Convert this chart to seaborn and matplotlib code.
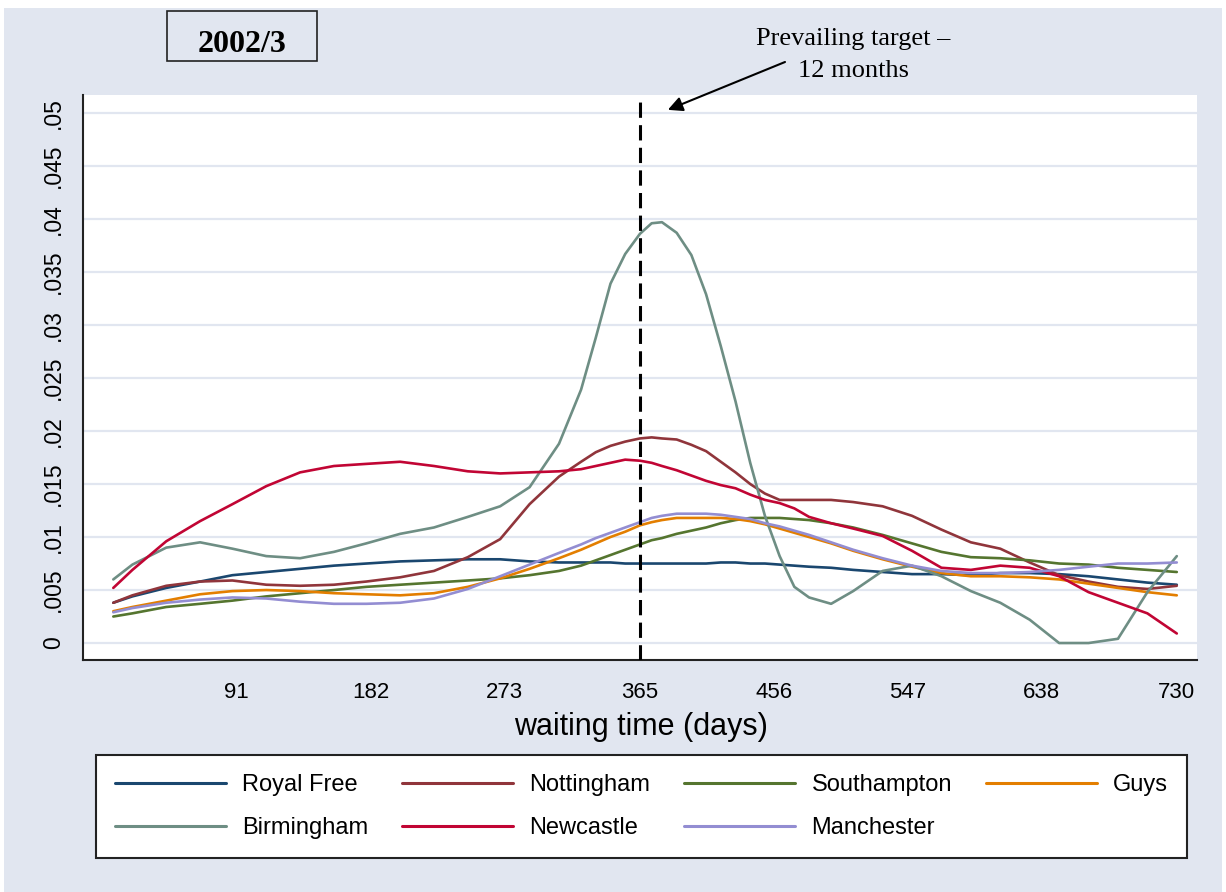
import numpy as np
import pandas as pd
import matplotlib
matplotlib.use("Agg")
import matplotlib.pyplot as plt
from matplotlib.lines import Line2D
from matplotlib.patches import Rectangle
import seaborn as sns

# waiting time grid (days)
days = [7, 20, 43, 66, 88, 111, 134, 157, 179, 202, 225, 248, 270, 290, 310,
        325, 335, 345, 355, 365, 373, 380, 390, 400, 410, 420, 430, 440, 450,
        460, 470, 480, 495, 510, 530, 550, 570, 590, 610, 630, 650, 670, 690,
        710, 730]

royal_free = [0.0038, 0.0044, 0.0052, 0.0058, 0.0064, 0.0067, 0.0070, 0.0073, 0.0075,
              0.0077, 0.0078, 0.0079, 0.0079, 0.0077, 0.0076, 0.0076, 0.0076, 0.0076,
              0.0075, 0.0075, 0.0075, 0.0075, 0.0075, 0.0075, 0.0075, 0.0076, 0.0076,
              0.0075, 0.0075, 0.0074, 0.0073, 0.0072, 0.0071, 0.0069, 0.0067, 0.0065,
              0.0065, 0.0064, 0.0066, 0.0066, 0.0065, 0.0063, 0.0060, 0.0057, 0.0055]
nottingham = [0.0038, 0.0045, 0.0054, 0.0058, 0.0059, 0.0055, 0.0054, 0.0055, 0.0058,
              0.0062, 0.0068, 0.0081, 0.0098, 0.0131, 0.0157, 0.0171, 0.0180, 0.0186,
              0.0190, 0.0193, 0.0194, 0.0193, 0.0192, 0.0187, 0.0181, 0.0171, 0.0161,
              0.0150, 0.0141, 0.0135, 0.0135, 0.0135, 0.0135, 0.0133, 0.0129, 0.0120,
              0.0107, 0.0095, 0.0089, 0.0076, 0.0064, 0.0058, 0.0053, 0.0051, 0.0054]
southampton = [0.0025, 0.0028, 0.0034, 0.0037, 0.0040, 0.0044, 0.0047, 0.0050, 0.0053,
               0.0055, 0.0057, 0.0059, 0.0061, 0.0064, 0.0068, 0.0073, 0.0078, 0.0083,
               0.0088, 0.0093, 0.0097, 0.0099, 0.0103, 0.0106, 0.0109, 0.0113, 0.0116,
               0.0118, 0.0118, 0.0118, 0.0117, 0.0116, 0.0113, 0.0109, 0.0102, 0.0094,
               0.0086, 0.0081, 0.0080, 0.0078, 0.0075, 0.0074, 0.0071, 0.0069, 0.0067]
guys = [0.0030, 0.0034, 0.0040, 0.0046, 0.0049, 0.0050, 0.0049, 0.0047, 0.0046,
        0.0045, 0.0047, 0.0053, 0.0061, 0.0070, 0.0080, 0.0088, 0.0094, 0.0100,
        0.0105, 0.0111, 0.0114, 0.0116, 0.0118, 0.0118, 0.0118, 0.0118, 0.0117,
        0.0115, 0.0112, 0.0108, 0.0104, 0.0100, 0.0094, 0.0087, 0.0079, 0.0072,
        0.0066, 0.0063, 0.0063, 0.0062, 0.0060, 0.0056, 0.0052, 0.0048, 0.0045]
birmingham = [0.0060, 0.0074, 0.0090, 0.0095, 0.0089, 0.0082, 0.0080, 0.0086, 0.0094,
              0.0103, 0.0109, 0.0119, 0.0129, 0.0147, 0.0188, 0.0239, 0.0288, 0.0339,
              0.0367, 0.0386, 0.0396, 0.0397, 0.0387, 0.0366, 0.0329, 0.0280, 0.0228,
              0.0170, 0.0120, 0.0082, 0.0053, 0.0043, 0.0037, 0.0049, 0.0068, 0.0073,
              0.0063, 0.0049, 0.0038, 0.0022, 0.0000, 0.0000, 0.0004, 0.0048, 0.0082]
newcastle = [0.0052, 0.0069, 0.0096, 0.0115, 0.0131, 0.0148, 0.0161, 0.0167, 0.0169,
             0.0171, 0.0167, 0.0162, 0.0160, 0.0161, 0.0162, 0.0164, 0.0167, 0.0170,
             0.0173, 0.0172, 0.0170, 0.0167, 0.0163, 0.0158, 0.0153, 0.0149, 0.0146,
             0.0140, 0.0135, 0.0132, 0.0127, 0.0119, 0.0113, 0.0108, 0.0101, 0.0087,
             0.0071, 0.0069, 0.0073, 0.0071, 0.0063, 0.0048, 0.0038, 0.0028, 0.0009]
manchester = [0.0029, 0.0033, 0.0038, 0.0041, 0.0043, 0.0042, 0.0039, 0.0037, 0.0037,
              0.0038, 0.0042, 0.0051, 0.0063, 0.0074, 0.0085, 0.0093, 0.0099, 0.0104,
              0.0109, 0.0114, 0.0118, 0.0120, 0.0122, 0.0122, 0.0122, 0.0121, 0.0119,
              0.0117, 0.0113, 0.0110, 0.0106, 0.0102, 0.0095, 0.0088, 0.0080, 0.0073,
              0.0068, 0.0066, 0.0066, 0.0067, 0.0069, 0.0072, 0.0075, 0.0075, 0.0076]

hospitals = ["Royal Free", "Nottingham", "Southampton", "Guys",
             "Birmingham", "Newcastle", "Manchester"]
series = [royal_free, nottingham, southampton, guys, birmingham, newcastle, manchester]
colors = ["#1a476f", "#90353b", "#55752f", "#e37e00", "#6e8e84", "#c10534", "#938dd2"]

xticks = [91, 182, 273, 365, 456, 547, 638, 730]
yticks = [0, .005, .01, .015, .02, .025, .03, .035, .04, .045, .05]
ytick_labels = ["0", ".005", ".01", ".015", ".02", ".025", ".03", ".035", ".04", ".045", ".05"]

df = pd.concat([pd.DataFrame({"day": days, "density": s, "hospital": h})
                for h, s in zip(hospitals, series)], ignore_index=True)

bg = "#e1e6f0"
sns.set_style("white")
plt.rcParams["font.family"] = ["Liberation Sans", "DejaVu Sans"]
plt.rcParams["text.color"] = "black"
plt.rcParams["xtick.labelcolor"] = "black"
plt.rcParams["ytick.labelcolor"] = "black"

fig = plt.figure(figsize=(12.26, 8.92), dpi=100, facecolor="white")
fig.patches.append(Rectangle((0.003, 0.0), 0.994, 0.991, transform=fig.transFigure,
                             facecolor=bg, edgecolor="none", zorder=-10))

ax = fig.add_axes([0.0677, 0.2601, 0.9086, 0.6334])
ax.set_facecolor("white")

for y in yticks:
    ax.axhline(y, color=bg, lw=1.6, zorder=0)

sns.lineplot(data=df, x="day", y="density", hue="hospital", hue_order=hospitals,
             palette=dict(zip(hospitals, colors)), estimator=None, linewidth=1.9,
             legend=False, ax=ax)

ax.axvline(365, color="black", lw=2.2, linestyle=(0, (5, 2.4)), zorder=5)

ax.set_xlim(-13.6, 743.7)
ax.set_ylim(-0.0016, 0.0517)
ax.set_xticks(xticks)
ax.set_xticklabels([str(t) for t in xticks], fontsize=16)
ax.set_yticks(yticks)
ax.set_yticklabels(ytick_labels, fontsize=16.5, rotation=90, va="center")
ax.tick_params(axis="x", length=7, width=1, color="#222222", pad=9, direction="out")
ax.tick_params(axis="y", length=8, width=1, color="#222222", pad=5, direction="out")
ax.set_xlabel("")
ax.set_ylabel("")
for side in ["top", "right"]:
    ax.spines[side].set_visible(False)
for side in ["left", "bottom"]:
    ax.spines[side].set_color("#222222")
    ax.spines[side].set_linewidth(1.5)

fig.text(641 / 1226, 1 - 735 / 892, "waiting time (days)", fontsize=22,
         ha="center", va="baseline")

# title box
fig.patches.append(Rectangle((167 / 1226, 1 - 61 / 892), 150 / 1226, 50 / 892,
                             transform=fig.transFigure, fill=False,
                             edgecolor="#222222", lw=1.2))
fig.text(242 / 1226, 1 - 52 / 892, "2002/3", fontsize=23, fontweight="bold",
         family="Liberation Serif", ha="center", va="baseline")

# annotation
fig.text(853 / 1226, 1 - 45 / 892, "Prevailing target \u2013", fontsize=19,
         family="Liberation Serif", ha="center", va="baseline")
fig.text(853 / 1226, 1 - 77 / 892, "12 months", fontsize=19,
         family="Liberation Serif", ha="center", va="baseline")
ax.annotate("", xy=(384, 0.0503), xycoords="data",
            xytext=(785 / 1226, 1 - 62 / 892), textcoords="figure fraction",
            arrowprops=dict(arrowstyle="-|>", color="black", lw=1.5,
                            mutation_scale=22, shrinkA=0, shrinkB=0),
            annotation_clip=False)

# legend, filled row-wise like the original
order = [0, 4, 1, 5, 2, 6, 3]
handles = [Line2D([], [], color=colors[i], lw=2.2) for i in order]
labels = [hospitals[i] for i in order]
leg = fig.legend(handles, labels, ncol=4, loc="lower left",
                 bbox_to_anchor=(96 / 1226, 1 - 858 / 892, 1091 / 1226, 102 / 892),
                 mode="expand", fontsize=17, frameon=True, fancybox=False,
                 edgecolor="#222222", handlelength=4.7, handletextpad=0.7,
                 labelspacing=0.9, borderaxespad=0, borderpad=0.8, framealpha=1)
leg.get_frame().set_linewidth(1.5)
leg.get_frame().set_facecolor("white")

fig.savefig("out.png", dpi=100, facecolor=fig.get_facecolor())
